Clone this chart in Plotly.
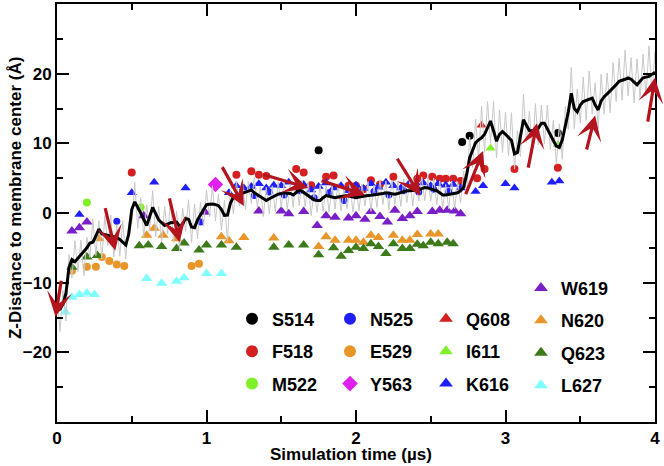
import numpy as np
import plotly.graph_objects as go

# ---------------- data ----------------
time_grid = np.round(np.arange(0, 4.0001, 0.02), 2)

smooth_z = [
    -14.0, -13.8, -13.1, -11.5, -7.8, -6.7, -7.0, -6.5, -6.1, -5.6, -5.0, -4.3, -4.2, -3.3, -2.3, -3.0, -3.1, -3.2, -3.2, -3.3, -3.5, -3.8, -4.2, -4.6, -3.0,
    0.5, 1.6, 0.9, 0.0, -0.9, -1.8, -0.5, 0.8, -0.1, -1.0, -1.4, -1.8, -1.6, -1.4, -1.35, -1.3, -1.9, -1.6, -0.8, -0.9, -2.0, -2.1, -1.0, -0.2, 0.5,
    1.2, 1.25, 1.3, 1.2, 1.05, 0.5, -0.35, -0.3, 1.4, 2.3, 2.5, 2.65, 2.8, 3.0, 3.15, 3.3, 2.9, 2.6, 2.3, 2.1, 1.8, 2.05, 2.3, 2.5, 2.7,
    2.8, 2.9, 2.85, 2.8, 2.6, 3.0, 3.3, 3.1, 2.8, 2.5, 2.1, 1.9, 1.8, 1.8, 2.2, 2.5, 2.4, 2.3, 2.2, 2.3, 2.4, 2.5, 2.5, 2.4, 2.3,
    2.2, 2.3, 2.4, 2.5, 2.5, 2.55, 2.6, 2.6, 2.7, 2.8, 2.9, 2.85, 2.75, 2.7, 2.8, 2.95, 3.1, 3.2, 3.2, 3.2, 3.2, 3.3, 3.5, 3.65, 3.6,
    3.5, 3.4, 3.2, 2.9, 2.6, 2.6, 2.7, 2.8, 2.8, 2.9, 3.2, 3.7, 5.5, 7.9, 9.0, 10.1, 10.5, 10.8, 11.3, 12.2, 13.2, 11.8, 10.3, 11.3, 11.7,
    11.3, 10.9, 10.4, 8.5, 8.7, 11.0, 13.4, 12.6, 11.8, 11.8, 11.8, 12.2, 12.9, 12.9, 12.0, 11.3, 10.4, 9.6, 9.4, 10.5, 12.3, 14.5, 17.2, 15.0, 14.5,
    15.5, 16.0, 16.2, 16.3, 16.5, 15.5, 14.8, 16.1, 16.7, 17.1, 17.5, 18.0, 18.4, 18.9, 19.0, 19.2, 19.4, 19.2, 18.8, 18.4, 18.9, 19.4, 19.5, 19.6, 19.9, 20.2,
]

raw_z = [
    -11.5, -17.0, -11.1, -15.5, -6.0, -9.3, -4.0, -8.4, -3.9, -9.0, -3.5, -6.4, -0.9, -6.1, -1.1, -6.6, -0.4, -4.7, -0.3, -6.3, -1.7, -6.2, -1.1, -6.6, -1.4,
    -1.5, 4.4, -2.2, 2.2, -3.4, 1.2, -2.3, 3.2, -3.4, 0.9, -4.0, 0.9, -3.0, 1.8, -4.25, 0.3, -5.4, 0.7, -2.7, 1.9, -4.2, 1.3, -3.7, 1.6, -1.9,
    3.3, -0.55, 3.9, -1.1, 2.75, -2.5, 1.85, -4.1, 3.3, -0.1, 4.5, 1.05, 4.6, 0.5, 4.55, 1.4, 5.1, 0.9, 3.8, -0.5, 3.7, -0.05, 3.9, 0.2, 4.5,
    0.8, 4.6, 0.45, 4.3, 0.8, 5.1, 1.1, 4.7, 0.9, 4.5, -0.4, 3.3, 0.1, 4.0, 0.2, 4.0, 0.1, 4.1, 0.6, 4.3, 0.3, 3.8, 0.6, 4.1, 0.1,
    3.8, 0.3, 4.2, 1.0, 4.5, 0.25, 4.0, 0.8, 4.8, 1.2, 4.6, 0.45, 4.65, 1.2, 4.4, 0.95, 4.9, 1.5, 4.7, 1.0, 5.2, 1.7, 5.2, 1.75, 5.1,
    1.7, 5.0, 1.2, 4.6, 0.7, 4.1, 0.6, 4.6, 0.6, 4.5, 1.5, 6.0, 2.7, 10.9, 6.5, 13.5, 7.6, 15.3, 8.7, 16.0, 10.0, 16.0, 7.9, 14.8, 8.7,
    14.5, 8.2, 14.4, 6.3, 11.8, 8.1, 17.0, 10.1, 14.6, 8.5, 15.7, 9.8, 15.5, 9.9, 15.5, 9.1, 13.3, 7.0, 12.8, 7.7, 15.3, 12.0, 20.9, 12.1, 17.8,
    12.9, 19.5, 13.3, 20.4, 14.2, 18.7, 12.1, 19.9, 14.2, 20.1, 14.4, 21.6, 16.0, 22.2, 16.2, 23.4, 16.8, 22.3, 15.8, 22.1, 16.4, 22.8, 16.8, 24.0, 17.0, 23.2,
]

S514_t = [1.75, 2.71, 2.76, 3.35]
S514_z = [9.0, 10.2, 11.1, 11.5]

F518_t = [0.50, 1.20, 1.30, 1.35, 1.40, 1.60, 1.65, 1.70, 1.80, 1.85, 1.95, 2.00, 2.05, 2.10, 2.16, 2.25,
          2.41, 2.45, 2.51, 2.56, 2.60, 2.65, 2.70, 2.81, 2.86, 3.06, 3.35]
F518_z = [5.8, 5.5, 6.0, 5.5, 5.3, 6.3, 5.8, 4.0, 5.2, 5.4, 3.9, 3.9, 3.4, 4.7, 4.1, 5.2,
          4.9, 5.4, 5.2, 4.9, 4.9, 4.9, 4.6, 5.0, 6.3, 6.3, 6.5]

M522_t = [0.20, 0.56]
M522_z = [1.5, 0.8]

N525_t = [0.40, 0.96, 1.32, 1.42, 1.52, 1.62, 1.72, 1.82, 1.92, 2.02, 2.12, 2.22, 2.32, 2.42, 2.52, 2.62]
N525_z = [-1.2, -1.3, 2.5, 3.0, 2.6, 3.2, 2.2, 2.9, 1.8, 2.8, 3.1, 2.6, 3.2, 3.0, 3.4, 3.1]

E529_t = [0.10, 0.20, 0.26, 0.30, 0.35, 0.40, 0.45, 0.90, 0.95]
E529_z = [-8.3, -7.7, -7.7, -6.3, -6.9, -7.4, -7.6, -7.6, -7.3]

Y563_t = [1.06]
Y563_z = [4.1]

Q608_t = [2.84]
Q608_z = [12.6]

I611_t = [2.90, 3.35]
I611_z = [9.3, 9.8]

K616_t = [0.15, 0.50, 0.65, 0.86, 1.15, 1.20, 1.25, 1.30, 1.35, 1.40, 1.45, 1.50, 1.55, 1.60, 1.65, 1.70,
          1.75, 1.80, 1.85, 1.90, 1.95, 2.00, 2.05, 2.10, 2.15, 2.20, 2.25, 2.30, 2.35, 2.40, 2.45, 2.50,
          2.55, 2.60, 2.65, 2.70, 2.80, 2.85, 3.00, 3.06, 3.31, 3.36]
K616_z = [-0.2, 2.9, 4.4, 3.6, 2.9, 3.9, 3.6, 3.8, 4.2, 3.6, 4.0, 3.9, 4.4, 3.7, 4.1, 3.3,
          3.8, 4.3, 3.6, 3.9, 3.2, 4.0, 3.5, 4.2, 3.7, 4.4, 3.9, 3.6, 4.1, 3.8, 4.3, 3.9,
          4.2, 4.0, 4.1, 3.6, 3.1, 3.9, 4.2, 3.6, 4.4, 4.6]

W619_t = [0.10, 0.15, 0.20, 0.58, 0.99, 1.35, 1.50, 1.55, 1.65, 1.74, 1.80, 1.86, 1.95, 2.00, 2.06, 2.10,
          2.16, 2.21, 2.26, 2.31, 2.36, 2.41, 2.51, 2.56, 2.61, 2.66, 2.70]
W619_z = [-2.6, -2.1, -1.3, -0.4, 0.1, 0.3, 0.3, -0.1, 0.2, -1.8, -0.4, -0.6, -0.7, -0.4, -0.9, 0.2,
          -0.5, -1.3, 0.4, -0.8, -0.4, 0.2, 0.2, 0.4, 0.4, 0.3, -0.1]

N620_t = [0.28, 0.60, 0.65, 0.71, 0.80, 1.10, 1.15, 1.25, 1.45, 1.75, 1.80, 1.86, 1.95, 2.00, 2.05, 2.10,
          2.15, 2.25, 2.31, 2.36, 2.41, 2.50, 2.55]
N620_z = [-3.7, -3.2, -2.2, -3.2, -3.7, -3.4, -4.0, -3.5, -3.6, -4.8, -3.4, -3.9, -3.9, -3.9, -4.2, -3.2,
          -3.5, -3.2, -3.9, -3.9, -3.1, -3.0, -3.0]

Q623_t = [0.10, 0.20, 0.27, 0.55, 0.61, 0.70, 0.80, 0.85, 0.95, 1.00, 1.10, 1.20, 1.45, 1.55, 1.65, 1.75,
          1.85, 1.90, 1.95, 2.00, 2.05, 2.10, 2.15, 2.20, 2.25, 2.31, 2.36, 2.41, 2.45, 2.50, 2.55, 2.61, 2.65]
Q623_z = [-7.8, -6.3, -6.1, -4.7, -4.6, -4.8, -5.1, -4.3, -5.3, -4.6, -4.6, -4.9, -4.9, -4.6, -4.6, -6.0,
          -5.0, -6.2, -5.4, -4.9, -5.1, -4.4, -4.8, -5.8, -4.4, -5.1, -5.1, -4.5, -4.7, -4.2, -4.4, -4.2, -4.4]

L627_t = [0.056, 0.10, 0.15, 0.20, 0.25, 0.60, 0.70, 0.80, 0.85, 1.00, 1.10]
L627_z = [-14.2, -12.1, -11.7, -11.5, -11.7, -9.4, -10.1, -9.8, -9.3, -8.7, -8.7]

# red arrows: head (t, z) and tail (t, z)
arrow_head_t = [-0.01, 0.39, 0.82, 1.25, 1.68, 2.06, 2.43, 2.85, 3.21, 3.60, 4.00]
arrow_head_z = [-14.9, -5.4, -4.2, 1.0, 3.6, 2.6, 2.5, 8.9, 12.9, 14.0, 19.4]
arrow_tail_t = [0.03, 0.32, 0.75, 1.10, 1.37, 1.76, 2.27, 2.73, 3.15, 3.54, 3.95]
arrow_tail_z = [-9.5, 0.9, 2.3, 6.8, 5.6, 4.7, 8.0, 2.5, 6.3, 8.9, 12.9]

x_ticks = [0, 1, 2, 3, 4]
y_ticks = [-20, -10, 0, 10, 20]

# ---------------- styling ----------------
RED = "#d42020"
LGREEN = "#80f028"
BLUE = "#1e1eff"
ORANGE = "#e8962a"
MAGENTA = "#e020f0"
PURPLE = "#7a1fc8"
DGREEN = "#3d7a1a"
CYAN = "#80ffff"
ARROW = "#b4141e"

series = [
    ("S514", S514_t, S514_z, "circle", "black", 8, "legend"),
    ("F518", F518_t, F518_z, "circle", RED, 8, "legend"),
    ("M522", M522_t, M522_z, "circle", LGREEN, 8, "legend"),
    ("N525", N525_t, N525_z, "circle", BLUE, 7, "legend2"),
    ("E529", E529_t, E529_z, "circle", ORANGE, 8, "legend2"),
    ("Y563", Y563_t, Y563_z, "diamond", MAGENTA, 12, "legend2"),
    ("Q608", Q608_t, Q608_z, "triangle-up", RED, 9, "legend3"),
    ("I611", I611_t, I611_z, "triangle-up", LGREEN, 9, "legend3"),
    ("K616", K616_t, K616_z, "triangle-up", BLUE, 9, "legend3"),
    ("W619", W619_t, W619_z, "triangle-up", PURPLE, 10, "legend4"),
    ("N620", N620_t, N620_z, "triangle-up", ORANGE, 10, "legend4"),
    ("Q623", Q623_t, Q623_z, "triangle-up", DGREEN, 10, "legend4"),
    ("L627", L627_t, L627_z, "triangle-up", CYAN, 10, "legend4"),
]

fig = go.Figure()
for name, tt, zz, sym, col, sz, lg in series:
    fig.add_trace(go.Scatter(
        x=tt, y=zz, mode="markers", name=name, legend=lg, legendgroup=name,
        marker=dict(symbol=sym, color=col, size=sz, line=dict(width=0)),
    ))

fig.add_trace(go.Scatter(x=time_grid, y=raw_z, mode="lines", showlegend=False,
                         line=dict(color="#c8c8c8", width=1)))
fig.add_trace(go.Scatter(x=time_grid, y=smooth_z, mode="lines", showlegend=False,
                         line=dict(color="black", width=3)))

for hx, hy, tx, ty in zip(arrow_head_t, arrow_head_z, arrow_tail_t, arrow_tail_z):
    fig.add_annotation(x=hx, y=hy, ax=tx, ay=ty, xref="x", yref="y", axref="x", ayref="y",
                       text="", showarrow=True, arrowhead=3, arrowsize=1.3, arrowwidth=3.2,
                       arrowcolor=ARROW, standoff=0, startstandoff=0)

L, R, T, B = 57, 655, 2, 422
W, H = R - L, B - T


def px_x(p):
    return (p - L) / W


def px_y(p):
    return (B - p) / H


legend_font = dict(family="Liberation Sans, Arial, sans-serif", size=18, color="black", weight="bold")


def leg(xpx, ytop):
    return dict(x=px_x(xpx), y=px_y(ytop), xanchor="left", yanchor="top",
                bgcolor="rgba(0,0,0,0)", borderwidth=0, font=legend_font,
                itemsizing="constant", tracegroupgap=6, traceorder="grouped")


tick_font = dict(family="Liberation Sans, Arial, sans-serif", size=17, color="black", weight="bold")

fig.update_layout(
    width=664, height=466,
    margin=dict(l=L, r=664 - R, t=T, b=466 - B),
    paper_bgcolor="white", plot_bgcolor="white",
    legend=leg(232, 300),
    legend2=leg(330, 300),
    legend3=leg(426, 300),
    legend4=leg(521, 269),
    xaxis=dict(range=[0, 4], tickmode="array", tickvals=x_ticks, ticks="inside", ticklen=12, tickwidth=2,
               tickcolor="black", showline=True, linewidth=2, linecolor="black", mirror="ticks",
               showgrid=False, zeroline=False, tickfont=tick_font,
               minor=dict(tickmode="array", tickvals=[0.5, 1.5, 2.5, 3.5], ticks="inside", ticklen=6,
                          tickwidth=2, tickcolor="black", showgrid=False)),
    yaxis=dict(range=[-30, 30], tickmode="array", tickvals=y_ticks, ticks="inside", ticklen=12, tickwidth=2,
               tickcolor="black", showline=True, linewidth=2, linecolor="black", mirror="ticks",
               showgrid=False, zeroline=False, tickfont=tick_font,
               minor=dict(tickmode="array", tickvals=[-25, -15, -5, 5, 15, 25], ticks="inside", ticklen=6,
                          tickwidth=2, tickcolor="black", showgrid=False)),
)

title_font = dict(family="Liberation Sans, Arial, sans-serif", size=17, color="black", weight="bold")
fig.add_annotation(text="Simulation time (µs)", x=px_x(351), y=px_y(455), xref="paper", yref="paper",
                   showarrow=False, font=title_font, xanchor="center", yanchor="middle")
fig.add_annotation(text="Z-Distance to membrane center (Å)", x=px_x(15), y=px_y(197), xref="paper",
                   yref="paper", showarrow=False, font=title_font, textangle=-90,
                   xanchor="center", yanchor="middle")

fig.write_html("out.html", config={"displayModeBar": False},
               post_script="document.body.style.margin='0';")
